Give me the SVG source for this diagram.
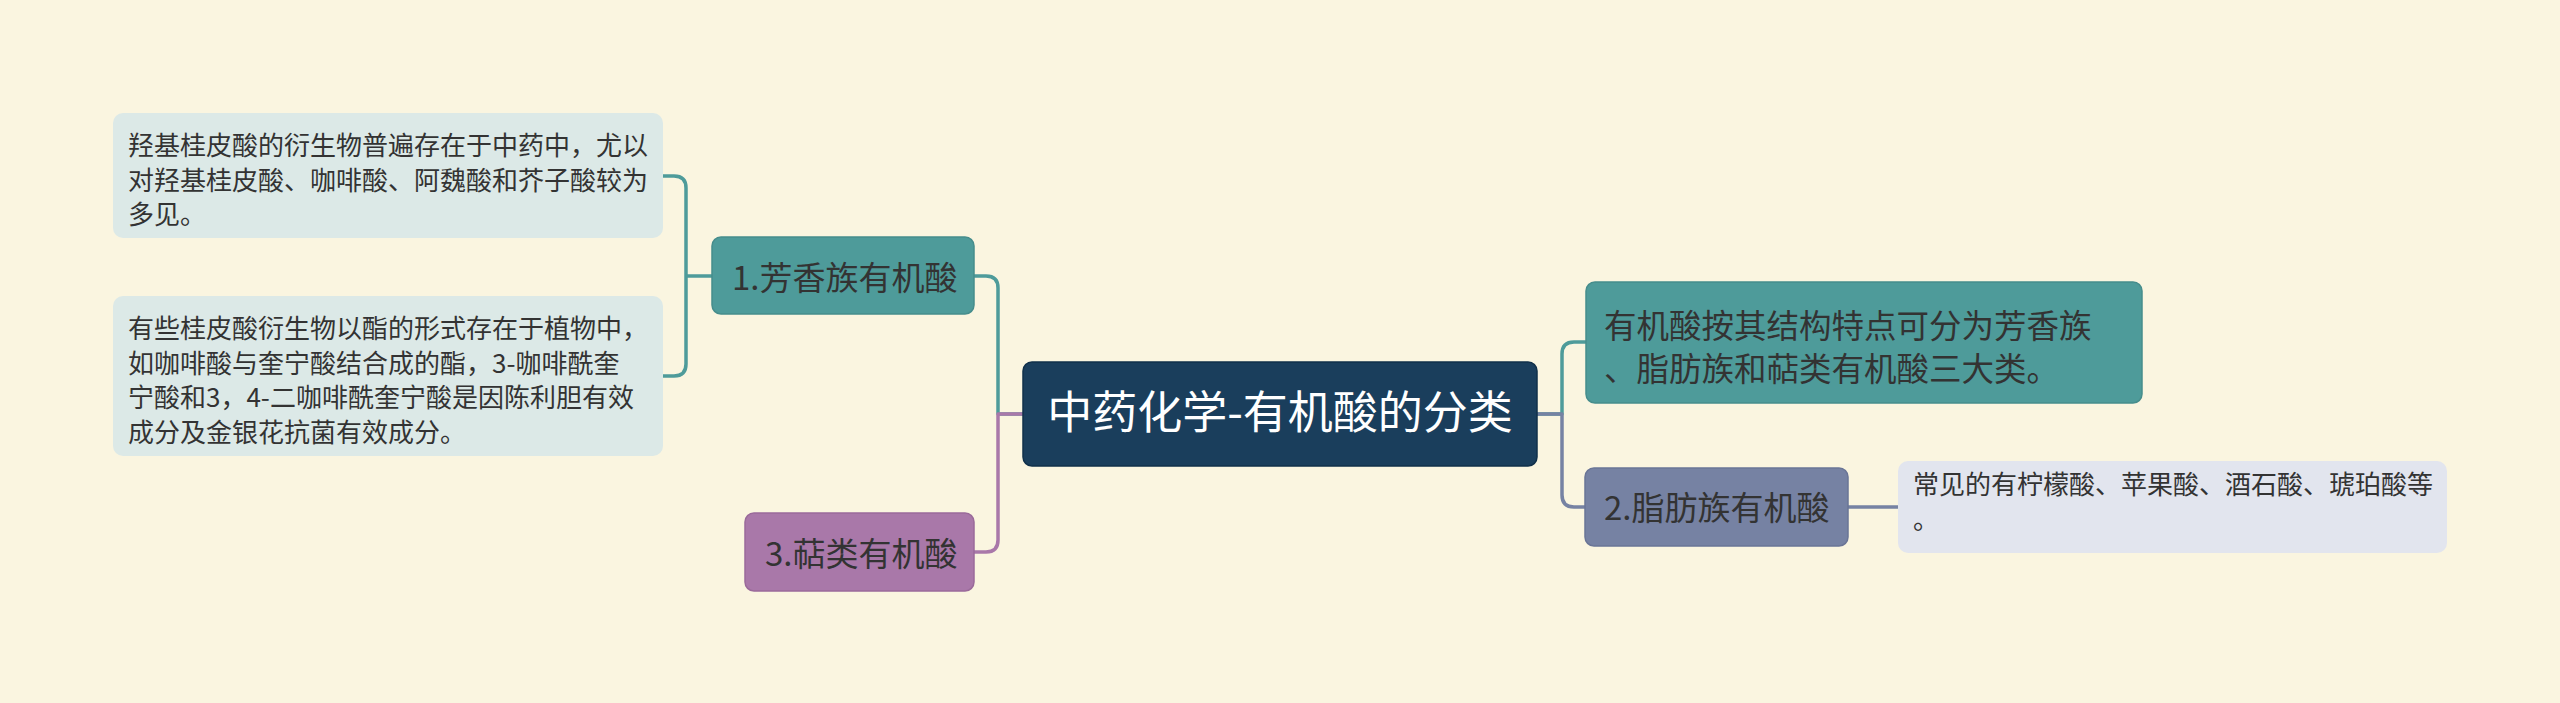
<svg xmlns="http://www.w3.org/2000/svg" width="2560" height="703" viewBox="0 0 2560 703">
<style>
.t{font-family:"Noto Sans CJK SC","Noto Sans",sans-serif;fill:#333333}
.w{font-family:"Noto Sans CJK SC","Noto Sans",sans-serif;fill:#ffffff}
.c{fill:none;stroke-width:3.5;stroke-linecap:round;stroke-linejoin:round}
</style>
<rect width="2560" height="703" fill="#faf5e0"/>
<g id="connectors">
<path class="c" stroke="#4e9b9a" d="M712,276 H686 M663,176 H674 Q686,176 686,188 V364 Q686,376 674,376 H663"/>
<path class="c" stroke="#4e9b9a" d="M1023,414 H998 V288 Q998,276 986,276 H974"/>
<path class="c" stroke="#a978a9" d="M1023,414 H998 V540 Q998,552 986,552 H974"/>
<path class="c" stroke="#4e9b9a" d="M1537,414 H1562 V354 Q1562,342 1574,342 H1586"/>
<path class="c" stroke="#7682a3" d="M1537,414 H1562 V495 Q1562,507 1574,507 H1586"/>
<path class="c" stroke="#7682a3" d="M1848,507 H1898"/>
</g>
<g id="root">
<rect x="1023" y="362" width="514" height="104" rx="9" fill="#1a3e5c" stroke="#10304a" stroke-width="1.5"/>
<text class="w" x="1280" y="429" font-size="45" text-anchor="middle">中药化学-有机酸的分类</text>
</g>
<g id="n1">
<rect x="712" y="237" width="262" height="77" rx="9" fill="#4e9b9a" stroke="#468d8c" stroke-width="1.5"/>
<text class="t" x="732" y="290" font-size="33">1.芳香族有机酸</text>
</g>
<g id="n1a">
<rect x="113" y="113" width="550" height="125" rx="10" fill="#dce9e7"/>
<text class="t" font-size="26"><tspan x="128" y="155">羟基桂皮酸的衍生物普遍存在于中药中，尤以</tspan><tspan x="128" y="189.5">对羟基桂皮酸、咖啡酸、阿魏酸和芥子酸较为</tspan><tspan x="128" y="224">多见。</tspan></text>
</g>
<g id="n1b">
<rect x="113" y="296" width="550" height="160" rx="10" fill="#dce9e7"/>
<text class="t" font-size="26"><tspan x="128" y="338">有些桂皮酸衍生物以酯的形式存在于植物中，</tspan><tspan x="128" y="372.5">如咖啡酸与奎宁酸结合成的酯，3-咖啡酰奎</tspan><tspan x="128" y="407">宁酸和3，4-二咖啡酰奎宁酸是因陈利胆有效</tspan><tspan x="128" y="441.5">成分及金银花抗菌有效成分。</tspan></text>
</g>
<g id="n3">
<rect x="745" y="513" width="229" height="78" rx="9" fill="#a978a9" stroke="#9a6a9a" stroke-width="1.5"/>
<text class="t" x="765" y="565.5" font-size="33">3.萜类有机酸</text>
</g>
<g id="r1">
<rect x="1586" y="282" width="556" height="121" rx="9" fill="#4e9b9a" stroke="#468d8c" stroke-width="1.5"/>
<text class="t" font-size="32.5"><tspan x="1604" y="337.5">有机酸按其结构特点可分为芳香族</tspan><tspan x="1604" y="380.5">、脂肪族和萜类有机酸三大类。</tspan></text>
</g>
<g id="n2">
<rect x="1585" y="468" width="263" height="78" rx="9" fill="#7682a3" stroke="#6a7596" stroke-width="1.5"/>
<text class="t" x="1604" y="519.5" font-size="33">2.脂肪族有机酸</text>
</g>
<g id="n2a">
<rect x="1898" y="461" width="549" height="92" rx="10" fill="#e2e5ee"/>
<text class="t" font-size="26"><tspan x="1913" y="494">常见的有柠檬酸、苹果酸、酒石酸、琥珀酸等</tspan><tspan x="1913" y="529">。</tspan></text>
</g>
</svg>
